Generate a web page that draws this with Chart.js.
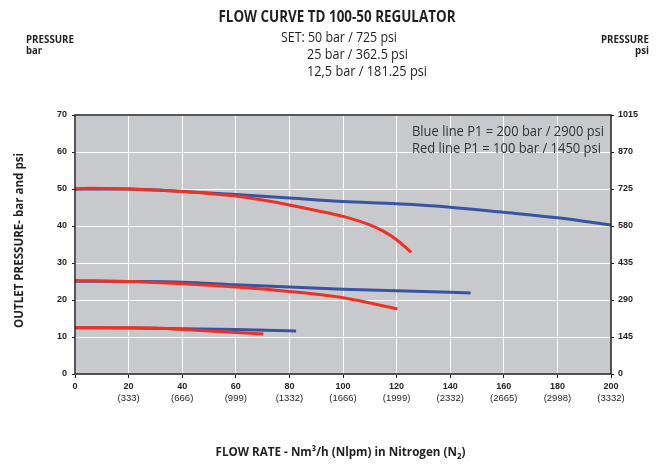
<!DOCTYPE html>
<html>
<head>
<meta charset="utf-8">
<script src="https://cdn.jsdelivr.net/npm/chart.js@4/dist/chart.umd.min.js"></script>
<style>
  html, body { margin: 0; padding: 0; background: #ffffff; }
  #wrap { position: relative; width: 666px; height: 464px; }
</style>
</head>
<body>
<div id="wrap"><canvas id="c" width="666" height="464"></canvas></div>
<script>
// ---- Data ----
const flowTicks = [0, 20, 40, 60, 80, 100, 120, 140, 160, 180, 200];
const nlpmLabels = ['', '(333)', '(666)', '(999)', '(1332)', '(1666)', '(1999)', '(2332)', '(2665)', '(2998)', '(3332)'];
const barTicks = [0, 10, 20, 30, 40, 50, 60, 70];
const psiTicks = [0, 145, 290, 435, 580, 725, 870, 1015];

// Blue line P1 = 200 bar
const blue50Flow  = [0, 20, 40, 60, 80, 100, 120, 140, 160, 180, 200];
const blue50Press = [50, 50, 49.3, 48.5, 47.6, 46.6, 46.0, 45.1, 43.7, 42.2, 40.3];
const blue25Flow  = [0, 20, 40, 60, 80, 100, 120, 140, 147.6];
const blue25Press = [25.1, 25.0, 24.8, 24.1, 23.5, 22.9, 22.5, 22.1, 21.9];
const blue12Flow  = [0, 20, 40, 60, 82.5];
const blue12Press = [12.5, 12.4, 12.2, 12.0, 11.6];

// Red line P1 = 100 bar
const red50Flow  = [0, 5, 20, 30, 40, 50, 60, 70, 80, 90, 100, 110, 115, 120, 125.4];
const red50Press = [50, 50.2, 50, 49.7, 49.3, 48.8, 48.1, 47.0, 45.7, 44.2, 42.6, 40.3, 38.6, 36.3, 32.9];
const red25Flow  = [0, 20, 40, 60, 80, 100, 120.3];
const red25Press = [25.3, 25.0, 24.4, 23.5, 22.3, 20.6, 17.6];
const red12Flow  = [0, 20, 30, 40, 50, 60, 70.3];
const red12Press = [12.5, 12.5, 12.4, 12.0, 11.6, 11.2, 10.8];

const BLUE = '#3953a4';
const RED = '#ee3124';

function pts(xs, ys) { return xs.map((x, i) => ({ x: x, y: ys[i] })); }
function ds(xs, ys, color) {
  return {
    data: pts(xs, ys), borderColor: color, borderWidth: 3, pointRadius: 0,
    fill: false, cubicInterpolationMode: 'monotone', borderCapStyle: 'butt'
  };
}

const CF = '"Open Sans", "DejaVu Sans", sans-serif';
const SANS = '"Liberation Sans", Arial, sans-serif';

// draws text squeezed horizontally to a given width (condensed look)
function fitText(ctx, text, x, y, width, font, align) {
  ctx.save();
  ctx.font = font;
  const w = ctx.measureText(text).width;
  const k = width / w;
  let left = x;
  if (align === 'center') left = x - width / 2;
  else if (align === 'right') left = x - width;
  ctx.translate(left, y);
  ctx.scale(k, 1);
  ctx.textAlign = 'left';
  ctx.fillText(text, 0, 0);
  ctx.restore();
}

const decor = {
  id: 'decor',
  beforeDraw(chart) {
    const { ctx, chartArea: a } = chart;
    ctx.save();
    ctx.fillStyle = '#c8c9cc';
    ctx.fillRect(a.left, a.top, a.right - a.left, a.bottom - a.top);
    ctx.restore();
  },
  afterDraw(chart) {
    const { ctx, chartArea: a } = chart;
    ctx.save();
    // frame
    ctx.strokeStyle = '#231f20';
    ctx.lineWidth = 1.5;
    ctx.strokeRect(a.left, a.top, a.right - a.left, a.bottom - a.top);

    ctx.fillStyle = '#231f20';
    ctx.textBaseline = 'middle';
    // main title
    fitText(ctx, 'FLOW CURVE TD 100-50 REGULATOR', 337, 17.5, 237, 'bold 16px ' + CF, 'center');
    // set lines
    fitText(ctx, 'SET: 50 bar / 725 psi', 281, 38, 116, '14px ' + CF, 'left');
    fitText(ctx, '25 bar / 362.5 psi', 307, 55.5, 101, '14px ' + CF, 'left');
    fitText(ctx, '12,5 bar / 181.25 psi', 307, 72.5, 120, '14px ' + CF, 'left');
    // pressure unit labels
    fitText(ctx, 'PRESSURE', 26, 40, 48, 'bold 11px ' + CF, 'left');
    fitText(ctx, 'bar', 26, 51, 16, 'bold 11px ' + CF, 'left');
    fitText(ctx, 'PRESSURE', 649, 40, 48, 'bold 11px ' + CF, 'right');
    fitText(ctx, 'psi', 649, 51, 14, 'bold 11px ' + CF, 'right');

    // in-plot legend text
    ctx.fillStyle = '#333333';
    fitText(ctx, 'Blue line P1 = 200 bar / 2900 psi', 412, 131.5, 192, '15px ' + CF, 'left');
    fitText(ctx, 'Red line P1 = 100 bar / 1450 psi', 412, 149, 189, '15px ' + CF, 'left');

    // y axis title
    ctx.fillStyle = '#231f20';
    ctx.save();
    ctx.translate(19, 240.5);
    ctx.rotate(-Math.PI / 2);
    fitText(ctx, 'OUTLET PRESSURE- bar and psi', 0, 0, 175, 'bold 13px ' + CF, 'center');
    ctx.restore();

    // x axis title with subscript
    const p1 = 'FLOW RATE - Nm\u00B3/h (Nlpm) in Nitrogen (N';
    const p3 = ')';
    const big = 'bold 13px ' + CF, small = 'bold 9px ' + CF;
    ctx.font = small; const w2 = ctx.measureText('2').width;
    ctx.font = big;
    const w1 = ctx.measureText(p1).width;
    const w3 = ctx.measureText(p3).width;
    const total = w1 + w2 + w3;
    const target = 250;
    const k = target / total;
    ctx.save();
    ctx.translate(340.5 - target / 2, 452.5);
    ctx.scale(k, 1);
    ctx.textAlign = 'left';
    ctx.font = big; ctx.fillText(p1, 0, 0);
    ctx.font = small; ctx.fillText('2', w1, 3.5);
    ctx.font = big; ctx.fillText(p3, w1 + w2, 0);
    ctx.restore();
    ctx.restore();
  }
};

new Chart(document.getElementById('c'), {
  type: 'line',
  data: {
    datasets: [
      ds(red50Flow, red50Press, RED),
      ds(red25Flow, red25Press, RED),
      ds(red12Flow, red12Press, RED),
      ds(blue50Flow, blue50Press, BLUE),
      ds(blue25Flow, blue25Press, BLUE),
      ds(blue12Flow, blue12Press, BLUE)
    ]
  },
  options: {
    responsive: false,
    animation: false,
    layout: { padding: { top: 115, left: 0, right: 0, bottom: 0 } },
    plugins: { legend: { display: false }, tooltip: { enabled: false }, title: { display: false } },
    scales: {
      x: {
        type: 'linear', position: 'bottom', min: 0, max: 200, weight: 0,
        afterBuildTicks: s => { s.ticks = flowTicks.map(v => ({ value: v })); },
        afterFit: s => { s.height = 17; },
        grid: { color: '#ffffff', lineWidth: 1, tickColor: '#231f20', tickLength: 4 },
        border: { display: false },
        ticks: { color: '#231f20', font: { family: SANS, size: 9, weight: 'bold' }, padding: 3, maxRotation: 0, autoSkip: false,
                 callback: v => String(v) }
      },
      x2: {
        type: 'linear', position: 'bottom', min: 0, max: 200, weight: 1,
        afterBuildTicks: s => { s.ticks = flowTicks.map(v => ({ value: v })); },
        afterFit: s => { s.height = 464 - 374 - 17; },
        grid: { display: false },
        border: { display: false },
        ticks: { color: '#231f20', font: { family: SANS, size: 9.5 }, padding: -6, maxRotation: 0, autoSkip: false,
                 callback: v => nlpmLabels[flowTicks.indexOf(v)] }
      },
      y: {
        type: 'linear', position: 'left', min: 0, max: 70,
        afterBuildTicks: s => { s.ticks = barTicks.map(v => ({ value: v })); },
        ticks: { color: '#231f20', font: { family: SANS, size: 9, weight: 'bold' }, padding: 5, autoSkip: false,
                 callback: v => String(v) },
        afterFit: s => { s.width = 75; },
        grid: { color: '#ffffff', lineWidth: 1, tickColor: '#231f20', tickLength: 3 },
        border: { display: false }
      },
      y2: {
        type: 'linear', position: 'right', min: 0, max: 1015,
        afterBuildTicks: s => { s.ticks = psiTicks.map(v => ({ value: v })); },
        afterFit: s => { s.width = 666 - 611; },
        ticks: { color: '#231f20', font: { family: SANS, size: 9, weight: 'bold' }, padding: 4, autoSkip: false,
                 callback: v => String(v) },
        grid: { drawOnChartArea: false, tickColor: '#231f20', tickLength: 3 },
        border: { display: false }
      }
    }
  },
  plugins: [decor]
});
</script>
</body>
</html>
